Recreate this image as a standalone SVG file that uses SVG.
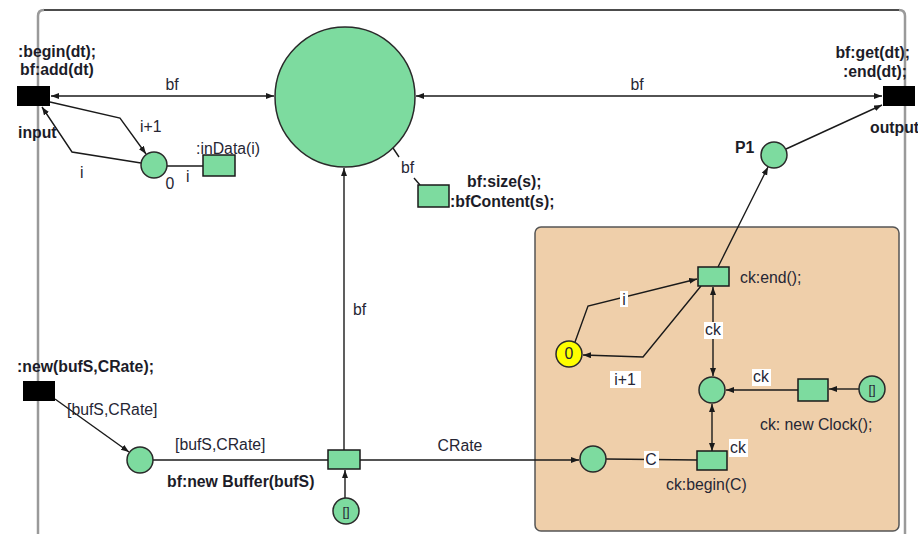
<svg xmlns="http://www.w3.org/2000/svg" width="918" height="534" viewBox="0 0 918 534">
  <style>
    text { font-family: "Liberation Sans", Arial, sans-serif; font-size: 15.8px; fill: #262634; }
    .b { font-weight: bold; fill: #1c1c28; }
    .place { fill: #7ddb9f; stroke: #2a2a2a; stroke-width: 1.5; }
    .trans { fill: #7ddb9f; stroke: #1a1a1a; stroke-width: 1.5; }
    .port { fill: #000; }
    .arc { fill: none; stroke: #1a1a1a; stroke-width: 1.4; }
    .lbl { fill: #fff; }
  </style>
  <defs>
    <marker id="ah" markerUnits="userSpaceOnUse" markerWidth="9" markerHeight="7" refX="8" refY="3" orient="auto-start-reverse">
      <path d="M0,0 L8,3 L0,6 z" fill="#1a1a1a"/>
    </marker>
  </defs>

  <!-- outer module frame -->
  <path d="M38,534 V16 Q38,10 44,10" fill="none" stroke="#9a9a9a" stroke-width="2.5"/>
  <path d="M899,10 Q905,10 905,16 V534" fill="none" stroke="#9a9a9a" stroke-width="2.5"/>
  <line x1="44" y1="10" x2="899" y2="10" stroke="#111" stroke-width="1.6"/>

  <!-- clock sub-module background -->
  <g id="clock-box">
    <rect x="535" y="227" width="364" height="304" rx="6" fill="#efcfaa" stroke="#555" stroke-width="1.5"/>
  </g>

  <!-- connectors -->
  <g id="connectors">
    <line class="arc" x1="51" y1="96" x2="274" y2="96" marker-start="url(#ah)" marker-end="url(#ah)"/>
    <line class="arc" x1="416" y1="96" x2="882" y2="96" marker-start="url(#ah)" marker-end="url(#ah)"/>
    <polyline class="arc" points="50,102 120,118 146,154" marker-end="url(#ah)"/>
    <polyline class="arc" points="141,163 72,152 42,107" marker-end="url(#ah)"/>
    <line class="arc" x1="167" y1="166" x2="203" y2="166"/>
    <line class="arc" x1="344" y1="450" x2="344" y2="168" marker-end="url(#ah)"/>
    <line class="arc" x1="393" y1="148" x2="399" y2="157"/>
    <line class="arc" x1="414" y1="178" x2="420" y2="185"/>
    <line class="arc" x1="718" y1="267" x2="768" y2="167" marker-end="url(#ah)"/>
    <line class="arc" x1="786" y1="149" x2="882" y2="105" marker-end="url(#ah)"/>
    <polyline class="arc" points="575,342 588,306 697,279" marker-end="url(#ah)"/>
    <polyline class="arc" points="701,286 643,357 583,355" marker-end="url(#ah)"/>
    <line class="arc" x1="713" y1="287" x2="713" y2="376" marker-start="url(#ah)" marker-end="url(#ah)"/>
    <line class="arc" x1="798" y1="390" x2="726" y2="390" marker-end="url(#ah)"/>
    <line class="arc" x1="859" y1="389" x2="829" y2="389" marker-end="url(#ah)"/>
    <line class="arc" x1="712" y1="404" x2="712" y2="451" marker-start="url(#ah)" marker-end="url(#ah)"/>
    <line class="arc" x1="606" y1="459" x2="697" y2="460"/>
    <line class="arc" x1="360" y1="460" x2="579" y2="460" marker-end="url(#ah)"/>
    <line class="arc" x1="345" y1="498" x2="345" y2="470" marker-end="url(#ah)"/>
    <line class="arc" x1="153" y1="460" x2="328" y2="460"/>
    <line class="arc" x1="55" y1="399" x2="129" y2="452" marker-end="url(#ah)"/>

    <!-- connector labels -->
    <text x="172" y="90" text-anchor="middle">bf</text>
    <text x="637" y="90" text-anchor="middle">bf</text>
    <text x="140" y="132">i+1</text>
    <text x="80" y="178">i</text>
    <text x="186" y="182">i</text>
    <text x="353" y="315">bf</text>
    <text x="401" y="173">bf</text>
    <text x="460" y="451" text-anchor="middle">CRate</text>
    <text x="67" y="415">[bufS,CRate]</text>
    <text x="175" y="450">[bufS,CRate]</text>
    <rect class="lbl" x="620" y="291" width="8" height="16"/>
    <text x="624" y="305" text-anchor="middle">i</text>
    <rect class="lbl" x="610" y="371" width="31" height="17"/>
    <text x="625" y="385" text-anchor="middle">i+1</text>
    <rect class="lbl" x="704" y="322" width="19" height="17"/>
    <text x="713" y="335" text-anchor="middle">ck</text>
    <rect class="lbl" x="752" y="369" width="19" height="17"/>
    <text x="761" y="382" text-anchor="middle">ck</text>
    <rect class="lbl" x="729" y="439" width="19" height="18"/>
    <text x="738" y="453" text-anchor="middle">ck</text>
    <rect class="lbl" x="644" y="451" width="15" height="17"/>
    <text x="651" y="465" text-anchor="middle">C</text>
  </g>

  <!-- nodes -->
  <g id="buffer-place">
    <circle class="place" cx="345" cy="97" r="70"/>
  </g>
  <g id="input">
    <rect class="port" x="17" y="86" width="33" height="20"/>
    <text class="b" x="18" y="57">:begin(dt);</text>
    <text class="b" x="20" y="75">bf:add(dt)</text>
    <text class="b" x="18" y="138">input</text>
  </g>
  <g id="counter-place">
    <circle class="place" cx="154" cy="165" r="13"/>
    <text x="170" y="189" text-anchor="middle">0</text>
  </g>
  <g id="indata">
    <rect class="trans" x="203" y="155" width="32" height="21"/>
    <text x="196" y="154">:inData(i)</text>
  </g>
  <g id="size-content">
    <rect class="trans" x="418" y="185" width="31" height="22"/>
    <text class="b" x="467" y="187">bf:size(s);</text>
    <text class="b" x="450" y="207">:bfContent(s);</text>
  </g>
  <g id="output">
    <rect class="port" x="883" y="86" width="32" height="20"/>
    <text class="b" x="910" y="58" text-anchor="end">bf:get(dt);</text>
    <text class="b" x="907" y="77" text-anchor="end">:end(dt);</text>
    <text class="b" x="870" y="133">output</text>
  </g>
  <g id="p1">
    <circle class="place" cx="774" cy="155" r="13"/>
    <text class="b" x="735" y="153">P1</text>
  </g>
  <g id="ck-end">
    <rect class="trans" x="698" y="267" width="31" height="19"/>
    <text x="740" y="283">ck:end();</text>
  </g>
  <g id="tick-counter">
    <circle cx="569" cy="354" r="13" fill="#ffff00" stroke="#2a2a2a" stroke-width="1.5"/>
    <text x="569" y="359" text-anchor="middle">0</text>
  </g>
  <g id="clock-place">
    <circle class="place" cx="712" cy="390" r="13"/>
  </g>
  <g id="new-clock">
    <rect class="trans" x="798" y="379" width="30" height="22"/>
    <text x="760" y="430">ck: new Clock();</text>
  </g>
  <g id="clock-init">
    <circle class="place" cx="872" cy="389" r="13"/>
    <text x="872" y="394" text-anchor="middle" style="font-size:13px">[]</text>
  </g>
  <g id="ck-begin">
    <rect class="trans" x="697" y="451" width="30" height="19"/>
    <text x="666" y="490">ck:begin(C)</text>
  </g>
  <g id="c-place">
    <circle class="place" cx="593" cy="459" r="13"/>
  </g>
  <g id="new-buffer">
    <rect class="trans" x="328" y="450" width="32" height="19"/>
    <text class="b" x="167" y="487">bf:new Buffer(bufS)</text>
  </g>
  <g id="buffer-init">
    <circle class="place" cx="346" cy="511" r="13"/>
    <text x="346" y="516" text-anchor="middle" style="font-size:13px">[]</text>
  </g>
  <g id="params-place">
    <circle class="place" cx="140" cy="460" r="13"/>
  </g>
  <g id="new">
    <rect class="port" x="23" y="381" width="32" height="20"/>
    <text class="b" x="17" y="372">:new(bufS,CRate);</text>
  </g>
</svg>
